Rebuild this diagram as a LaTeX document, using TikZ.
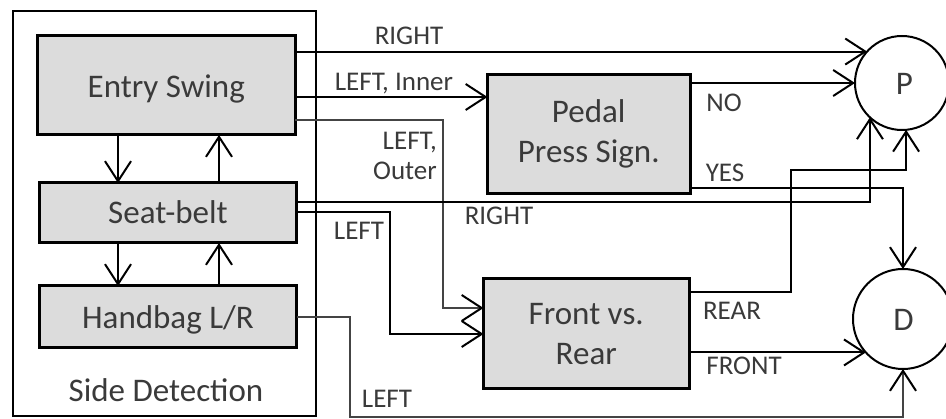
\documentclass[tikz,border=0pt]{standalone}
\usepackage{fontspec}
\setmainfont{Carlito}
\usetikzlibrary{arrows.meta,calc}
\definecolor{boxfill}{HTML}{DCDCDC}
\definecolor{txt}{HTML}{3A3A3A}
\definecolor{thingray}{HTML}{444444}
\tikzset{
  blk/.style={draw=black,line width=3pt,fill=boxfill,inner sep=0pt,outer sep=0pt,
    align=center,text=txt,font=\fontsize{33}{40}\selectfont},
  blkone/.style={blk,text height=24pt,text depth=0pt},
  frame/.style={draw=black,line width=2.5pt,inner sep=0pt,outer sep=0pt},
  circ/.style={draw=black,line width=2pt,circle,inner sep=0pt,outer sep=0pt,
    text=txt,font=\fontsize{33}{40}\selectfont,text height=24pt,text depth=0pt},
  tipv/.tip={Straight Barb[length=20pt,width=26pt,line width=2pt,color=black]},
  conn/.style={line width=2pt,-tipv},
  thinconn/.style={line width=1.3pt,draw=thingray,-tipv},
  lbl/.style={text=txt,font=\fontsize{27}{33}\selectfont,inner sep=0pt,anchor=base},
  maintxt/.style={text=txt,font=\fontsize{33}{40}\selectfont,inner sep=0pt,anchor=base}
}
\begin{document}
\begin{tikzpicture}[x=1pt,y=-1pt]
\useasboundingbox (0,0) rectangle (946,419);

% side detection frame and blocks
\node[frame,minimum width=303pt,minimum height=405pt] (side) at (164.5,213.5) {};
\node[maintxt] (sidelbl) at (166,402) {Side Detection};
\node[blkone,minimum width=257.5pt,minimum height=99pt] (entry) at (166.25,85.5) {Entry Swing};
\node[blkone,minimum width=257pt,minimum height=60pt,text height=22pt] (seat) at (168,213) {Seat-belt};
\node[blkone,minimum width=257pt,minimum height=62pt] (hand) at (168,317) {Handbag L/R};

% right-hand blocks
\node[blk,minimum width=202.5pt,minimum height=119pt] (pedal) at (588.75,134) {Pedal\\Press Sign.};
\node[blk,minimum width=205.5pt,minimum height=109.5pt] (front) at (586.25,333.75) {Front vs.\\Rear};
\node[circ,minimum size=94pt] (P) at (902,83) {\hspace*{5pt}P};
\node[circ,minimum size=100pt] (D) at (903,319) {\hspace*{1pt}D};

% internal arrows
\draw[conn] (entry.south -| 118,0) -- (seat.north -| 118,0);
\draw[conn] (seat.north -| 219,0) -- (entry.south -| 219,0);
\draw[conn] (seat.south -| 118,0) -- (hand.north -| 118,0);
\draw[conn] (hand.north -| 219,0) -- (seat.south -| 219,0);

% connectors from Entry Swing
\draw[conn] (entry.east |- P.138.7) -- (P.138.7);
\draw[conn] (entry.east |- 0,97) -- (pedal.west |- 0,97);
\draw[thinconn] (entry.east |- 0,120) -| (443,308) -- (front.west |- 0,308);

% connectors from Pedal Press Sign.
\draw[conn] (pedal.east |- P.west) -- (P.west);
\draw[conn] (pedal.east |- 0,188) -| (D.north);

% connectors from Seat-belt
\draw[conn] (seat.east |- 0,202) -| (P.-133);
\draw[conn] (seat.east |- 0,212) -| (390,334) -- (front.west |- 0,334);

% connectors from Front vs. Rear
\draw[conn] (front.east |- 0,292) -| (791,170) -| (P.-85);
\draw[conn] (front.east |- D.-138.7) -- (D.-138.7);

% connector from Handbag
\draw[thinconn] (hand.east |- 0,317) -| (350,417) -| (D.south);

% labels
\node[lbl] (lR1) at (409,45) {RIGHT};
\node[lbl] (lLI) at (394,91) {LEFT, Inner};
\node[lbl,align=right,anchor=base east,font=\fontsize{27}{30}\selectfont] (lLO) at (437,180) {LEFT,\\Outer};
\node[lbl] (lNO) at (724,112) {NO};
\node[lbl] (lYES) at (725,182) {YES};
\node[lbl] (lR2) at (499,225) {RIGHT};
\node[lbl] (lL2) at (359,240) {LEFT};
\node[lbl] (lL3) at (387,408) {LEFT};
\node[lbl] (lREAR) at (732,320) {REAR};
\node[lbl] (lFRONT) at (744,375) {FRONT};
\end{tikzpicture}
\end{document}
